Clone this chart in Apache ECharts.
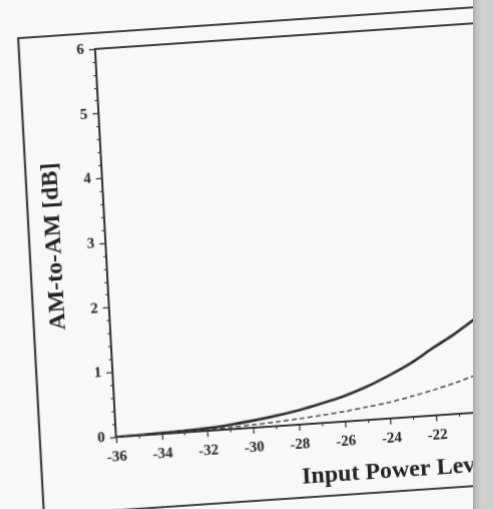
<!DOCTYPE html>
<html>
<head>
<meta charset="utf-8">
<script src="https://cdn.jsdelivr.net/npm/echarts@6/dist/echarts.min.js"></script>
<style>
html,body{margin:0;padding:0;width:493px;height:509px;overflow:hidden;background:#f7f8f8;position:relative}
#chart{position:absolute;left:-20px;top:-20px;width:620px;height:600px;transform-origin:136px 457px;transform:matrix(1,-0.0678,0.054,1,0,0)}
#edge{position:absolute;left:473px;top:0;width:20px;height:509px;background:linear-gradient(to right,#a8a8a8 0px,#bfbfbf 3px,#d0d0d0 9px,#cdcdcd 20px)}
</style>
</head>
<body>
<div id="chart"></div>
<div id="edge"></div>
<script>
// Input power level [dBm]
const inputPower = [-36,-35,-34,-33,-32,-31,-30,-29,-28,-27,-26,-25,-24,-23,-22,-21,-20];
// AM-to-AM [dB], solid curve
const amamSolid = [0,0.005,0.015,0.025,0.04,0.07,0.11,0.16,0.22,0.3,0.39,0.51,0.66,0.83,1.04,1.24,1.47];
// AM-to-AM [dB], dashed curve
const amamDashed = [0,0.002,0.005,0.01,0.02,0.03,0.045,0.065,0.09,0.12,0.155,0.2,0.25,0.32,0.4,0.49,0.6];
const xMin = -36, xMax = -18, xStep = 2;
const yMin = 0, yMax = 6, yStep = 1;
const yTitle = 'AM-to-AM [dB]';
const xTitle = 'Input Power Level [dBm]';

const serif = '"Liberation Serif", "DejaVu Serif", serif';
const chart = echarts.init(document.getElementById('chart'), null, {renderer: 'canvas'});
chart.setOption({
  animation: false,
  backgroundColor: 'transparent',
  grid: {left: 136, top: 69, width: 412, height: 388, show: true, borderColor: '#3a3a3a', borderWidth: 1.8, backgroundColor: 'transparent'},
  xAxis: {
    type: 'value', min: xMin, max: xMax, interval: xStep,
    axisLine: {show: true, lineStyle: {color: '#333', width: 1.8}},
    axisTick: {show: true, length: 6, lineStyle: {color: '#333', width: 1.3}},
    minorTick: {show: true, splitNumber: 2, length: 3, lineStyle: {color: '#333', width: 1.1}},
    splitLine: {show: false},
    axisLabel: {margin: 13, color: '#222', fontFamily: serif, fontWeight: 'bold', fontSize: 15}
  },
  yAxis: {
    type: 'value', min: yMin, max: yMax, interval: yStep,
    name: yTitle, nameLocation: 'middle', nameGap: 39,
    nameTextStyle: {color: '#222', fontFamily: serif, fontWeight: 'bold', fontSize: 24},
    axisLine: {show: true, lineStyle: {color: '#333', width: 1.8}},
    axisTick: {show: true, length: 6, lineStyle: {color: '#333', width: 1.3}},
    minorTick: {show: true, splitNumber: 5, length: 3, lineStyle: {color: '#333', width: 1.1}},
    splitLine: {show: false},
    axisLabel: {margin: 11, color: '#222', fontFamily: serif, fontWeight: 'bold', fontSize: 15}
  },
  graphic: [
    {type: 'rect', shape: {x: 60, y: 53, width: 700, height: 477}, style: {fill: 'none', stroke: '#3c3c3c', lineWidth: 2.2}, silent: true},
    {type: 'text', x: 319, y: 510, style: {text: xTitle, font: 'bold 24px ' + serif, fill: '#222', align: 'left', verticalAlign: 'middle'}, silent: true}
  ],
  series: [
    {type: 'line', data: inputPower.map((x, i) => [x, amamSolid[i]]), smooth: 0.3, symbol: 'none',
     lineStyle: {color: '#2a2a2a', width: 2.6}},
    {type: 'line', data: inputPower.map((x, i) => [x, amamDashed[i]]), smooth: 0.3, symbol: 'none',
     lineStyle: {color: '#444', width: 1.5, type: [5, 3]}}
  ]
});
</script>
</body>
</html>
